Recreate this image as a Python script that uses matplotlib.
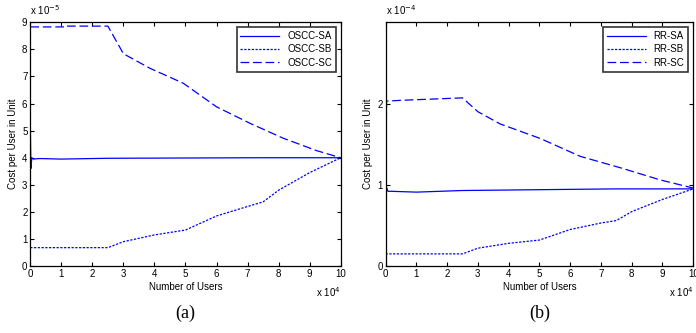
import matplotlib.pyplot as plt

plt.rcParams['font.family'] = ['Liberation Sans', 'DejaVu Sans']

# ---- panel (a): OSCC, values in units of 1e-5, users in units of 1e4
a_sa_x = [0, 0.02, 0.05, 0.1, 0.3, 1.0, 2.5, 5.0, 7.5, 10]
a_sa_y = [5.3, 3.6, 4.0, 3.95, 3.97, 3.95, 3.98, 3.99, 4.0, 4.0]
a_sb_x = [0, 2.5, 3.0, 4.0, 5.0, 6.0, 7.0, 7.5, 8.0, 9.0, 10]
a_sb_y = [0.68, 0.68, 0.9, 1.15, 1.33, 1.85, 2.2, 2.37, 2.8, 3.45, 4.0]
a_sc_x = [0, 1.1, 1.1, 2.5, 3.0, 3.86, 4.93, 6.0, 7.08, 8.15, 9.23, 10]
a_sc_y = [8.83, 8.83, 8.86, 8.86, 7.84, 7.30, 6.75, 5.88, 5.27, 4.72, 4.26, 4.0]

# ---- panel (b): RR, values in units of 1e-4
b_sa_x = [0, 0.03, 0.08, 0.2, 1.0, 2.5, 5.0, 7.5, 10]
b_sa_y = [0.1, 0.97, 0.92, 0.92, 0.91, 0.93, 0.94, 0.95, 0.95]
b_sb_x = [0, 2.5, 3.0, 4.0, 5.0, 6.0, 7.0, 7.5, 8.0, 9.0, 10]
b_sb_y = [0.15, 0.15, 0.22, 0.28, 0.32, 0.45, 0.53, 0.56, 0.67, 0.82, 0.95]
b_sc_x = [0, 0.03, 0.5, 2.5, 3.0, 3.72, 5.03, 6.33, 7.63, 8.93, 10]
b_sc_y = [0.1, 2.03, 2.04, 2.07, 1.90, 1.75, 1.57, 1.35, 1.21, 1.06, 0.96]

xticks = list(range(11))

fig = plt.figure(figsize=(6.96, 3.33), dpi=100)
ax1 = fig.add_axes([0.0435, 0.201, 0.446, 0.732])
ax2 = fig.add_axes([0.554, 0.201, 0.442, 0.732])

blue = (0, 0, 1)
panels = [
    (ax1, a_sa_x, a_sa_y, a_sb_x, a_sb_y, a_sc_x, a_sc_y, 'OSCC', 9, range(10), r'x 10$^{-5}$', '(a)'),
    (ax2, b_sa_x, b_sa_y, b_sb_x, b_sb_y, b_sc_x, b_sc_y, 'RR', 3, range(3), r'x 10$^{-4}$', '(b)'),
]

for ax, sax, say, sbx, sby, scx, scy, name, ytop, yt, ymult, tag in panels:
    ax.plot(sax, say, color=blue, lw=0.9, label=name + '-SA')
    ax.plot(sbx, sby, color=blue, lw=0.9, dashes=(1.8, 1.2), label=name + '-SB')
    ax.plot(scx, scy, color=blue, lw=0.9, dashes=(7, 3), label=name + '-SC')
    ax.set_xlim(0, 10)
    ax.set_ylim(0, ytop)
    ax.set_xticks(xticks)
    ax.set_yticks(list(yt))
    ax.tick_params(direction='in', top=True, right=True, labelsize=7, length=3, pad=2)
    for s in ax.spines.values():
        s.set_linewidth(0.9)
    ax.set_xlabel('Number of Users', fontsize=7, labelpad=2)
    ax.set_ylabel('Cost per User in Unit', fontsize=7, labelpad=3)
    ax.text(0.0, 1.02, ymult, transform=ax.transAxes, fontsize=7, ha='left', va='bottom')
    ax.text(1.0, -0.08, r'x 10$^{4}$', transform=ax.transAxes, fontsize=7, ha='right', va='top')
    ax.text(0.5, -0.16, tag, transform=ax.transAxes, fontsize=13, ha='center', va='top',
            family='Liberation Serif')
    leg = ax.legend(loc='upper right', fontsize=7, frameon=True, fancybox=False,
                    handlelength=4, borderpad=0.4, labelspacing=0.35, borderaxespad=0.5)
    leg.get_frame().set_edgecolor('black')
    leg.get_frame().set_linewidth(1.2)

fig.savefig('out.png', dpi=100)
